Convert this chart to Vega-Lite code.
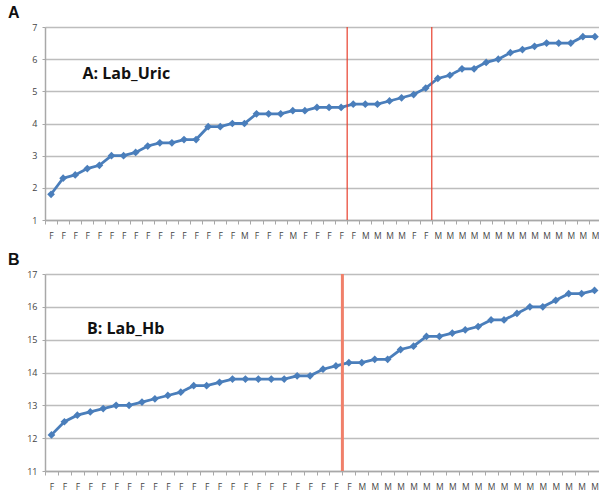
{
  "$schema": "https://vega.github.io/schema/vega-lite/v6.json",
  "padding": {"left": 8, "top": 5, "right": 0, "bottom": 0},
  "spacing": 12,
  "config": {
    "view": {"stroke": null},
    "font": "Open Sans",
    "title": {"font": "Liberation Sans", "fontSize": 16, "fontWeight": "bold", "anchor": "start", "frame": "bounds", "color": "#111", "offset": 2},
    "axisX": {"labelAngle": 0, "labelFontSize": 8.5, "labelFont": "Open Sans", "labelColor": "#444", "labelPadding": 7, "labelOverlap": false, "labelFlush": false, "labelBound": false, "tickBand": "extent", "tickSize": 4, "tickColor": "#a8a8a8", "domainColor": "#a8a8a8", "domainWidth": 1.5, "grid": false, "title": null},
    "axisY": {"labelFontSize": 9, "labelFont": "Open Sans", "labelColor": "#444", "labelPadding": 5, "tickSize": 3, "tickColor": "#a8a8a8", "domainColor": "#a8a8a8", "domainWidth": 1.5, "gridColor": "#bdbdbd", "gridWidth": 1.5, "title": null, "minExtent": 37, "maxExtent": 37, "format": "d"}
  },
  "datasets": {
    "uric": [
      {"key": "F|1", "v": 1.8}, {"key": "F|2", "v": 2.3}, {"key": "F|3", "v": 2.4}, {"key": "F|4", "v": 2.6},
      {"key": "F|5", "v": 2.7}, {"key": "F|6", "v": 3.0}, {"key": "F|7", "v": 3.0}, {"key": "F|8", "v": 3.1},
      {"key": "F|9", "v": 3.3}, {"key": "F|10", "v": 3.4}, {"key": "F|11", "v": 3.4}, {"key": "F|12", "v": 3.5},
      {"key": "F|13", "v": 3.5}, {"key": "F|14", "v": 3.9}, {"key": "F|15", "v": 3.9}, {"key": "F|16", "v": 4.0},
      {"key": "M|17", "v": 4.0}, {"key": "F|18", "v": 4.3}, {"key": "F|19", "v": 4.3}, {"key": "F|20", "v": 4.3},
      {"key": "M|21", "v": 4.4}, {"key": "F|22", "v": 4.4}, {"key": "F|23", "v": 4.5}, {"key": "F|24", "v": 4.5},
      {"key": "F|25", "v": 4.5}, {"key": "F|26", "v": 4.6, "cut": true}, {"key": "M|27", "v": 4.6}, {"key": "M|28", "v": 4.6},
      {"key": "M|29", "v": 4.7}, {"key": "M|30", "v": 4.8}, {"key": "F|31", "v": 4.9}, {"key": "F|32", "v": 5.1},
      {"key": "M|33", "v": 5.4, "cut": true}, {"key": "M|34", "v": 5.5}, {"key": "M|35", "v": 5.7}, {"key": "M|36", "v": 5.7},
      {"key": "M|37", "v": 5.9}, {"key": "M|38", "v": 6.0}, {"key": "M|39", "v": 6.2}, {"key": "M|40", "v": 6.3},
      {"key": "M|41", "v": 6.4}, {"key": "M|42", "v": 6.5}, {"key": "M|43", "v": 6.5}, {"key": "M|44", "v": 6.5},
      {"key": "M|45", "v": 6.7}, {"key": "M|46", "v": 6.7}
    ],
    "hb": [
      {"key": "F|1", "v": 12.1}, {"key": "F|2", "v": 12.5}, {"key": "F|3", "v": 12.7}, {"key": "F|4", "v": 12.8},
      {"key": "F|5", "v": 12.9}, {"key": "F|6", "v": 13.0}, {"key": "F|7", "v": 13.0}, {"key": "F|8", "v": 13.1},
      {"key": "F|9", "v": 13.2}, {"key": "F|10", "v": 13.3}, {"key": "F|11", "v": 13.4}, {"key": "F|12", "v": 13.6},
      {"key": "F|13", "v": 13.6}, {"key": "F|14", "v": 13.7}, {"key": "F|15", "v": 13.8}, {"key": "F|16", "v": 13.8},
      {"key": "F|17", "v": 13.8}, {"key": "F|18", "v": 13.8}, {"key": "F|19", "v": 13.8}, {"key": "F|20", "v": 13.9},
      {"key": "F|21", "v": 13.9}, {"key": "F|22", "v": 14.1}, {"key": "F|23", "v": 14.2}, {"key": "F|24", "v": 14.3, "cut": true},
      {"key": "M|25", "v": 14.3}, {"key": "M|26", "v": 14.4}, {"key": "M|27", "v": 14.4}, {"key": "M|28", "v": 14.7},
      {"key": "M|29", "v": 14.8}, {"key": "M|30", "v": 15.1}, {"key": "M|31", "v": 15.1}, {"key": "M|32", "v": 15.2},
      {"key": "M|33", "v": 15.3}, {"key": "M|34", "v": 15.4}, {"key": "M|35", "v": 15.6}, {"key": "M|36", "v": 15.6},
      {"key": "M|37", "v": 15.8}, {"key": "M|38", "v": 16.0}, {"key": "M|39", "v": 16.0}, {"key": "M|40", "v": 16.2},
      {"key": "M|41", "v": 16.4}, {"key": "M|42", "v": 16.4}, {"key": "M|43", "v": 16.5}
    ]
  },
  "vconcat": [
    {
      "title": {"text": "A"},
      "width": 556,
      "height": 193,
      "data": {"name": "uric"},
      "encoding": {
        "x": {"field": "key", "type": "ordinal", "sort": null, "scale": {"type": "band", "paddingInner": 0, "paddingOuter": 0},
              "axis": {"labelExpr": "datum.value ? split(datum.value, '|')[0] : ''"}},
        "y": {"field": "v", "type": "quantitative", "scale": {"domain": [1, 7], "nice": false, "zero": false},
              "axis": {"values": [1, 2, 3, 4, 5, 6, 7]}}
      },
      "layer": [
        {"mark": {"type": "line", "color": "#4a7ebb", "strokeWidth": 2.8}, "encoding": {"x": {"field": "key", "type": "ordinal", "sort": null, "bandPosition": 0.5}}},
        {"mark": {"type": "point", "shape": "diamond", "filled": true, "color": "#4a7ebb", "size": 60, "opacity": 1}, "encoding": {"x": {"field": "key", "type": "ordinal", "sort": null, "bandPosition": 0.5}}},
        {"transform": [{"filter": "datum.cut"}], "mark": {"type": "rule", "color": "#e8402e", "strokeWidth": 1.2},
         "encoding": {"x": {"field": "key", "type": "ordinal", "sort": null, "bandPosition": 0}, "y": null}},
        {"transform": [{"filter": "datum.key == 'F|4'"}],
         "mark": {"type": "text", "text": "A: Lab_Uric", "font": "Open Sans", "fontSize": 16, "fontWeight": "bold", "align": "left", "baseline": "middle", "color": "#111"},
         "encoding": {"x": {"field": "key", "type": "ordinal", "sort": null, "bandPosition": 0.1}, "y": {"datum": 5.55}}}
      ]
    },
    {
      "title": {"text": "B"},
      "width": 556,
      "height": 197,
      "data": {"name": "hb"},
      "encoding": {
        "x": {"field": "key", "type": "ordinal", "sort": null, "scale": {"type": "band", "paddingInner": 0, "paddingOuter": 0},
              "axis": {"labelExpr": "datum.value ? split(datum.value, '|')[0] : ''"}},
        "y": {"field": "v", "type": "quantitative", "scale": {"domain": [11, 17], "nice": false, "zero": false},
              "axis": {"values": [11, 12, 13, 14, 15, 16, 17]}}
      },
      "layer": [
        {"mark": {"type": "line", "color": "#4a7ebb", "strokeWidth": 2.8}, "encoding": {"x": {"field": "key", "type": "ordinal", "sort": null, "bandPosition": 0.5}}},
        {"mark": {"type": "point", "shape": "diamond", "filled": true, "color": "#4a7ebb", "size": 60, "opacity": 1}, "encoding": {"x": {"field": "key", "type": "ordinal", "sort": null, "bandPosition": 0.5}}},
        {"transform": [{"filter": "datum.cut"}], "mark": {"type": "rule", "color": "#f0806a", "strokeWidth": 3},
         "encoding": {"x": {"field": "key", "type": "ordinal", "sort": null, "bandPosition": 0}, "y": null}},
        {"transform": [{"filter": "datum.key == 'F|4'"}],
         "mark": {"type": "text", "text": "B: Lab_Hb", "font": "Open Sans", "fontSize": 16, "fontWeight": "bold", "align": "left", "baseline": "middle", "color": "#111"},
         "encoding": {"x": {"field": "key", "type": "ordinal", "sort": null, "bandPosition": 0.25}, "y": {"datum": 15.33}}}
      ]
    }
  ]
}
